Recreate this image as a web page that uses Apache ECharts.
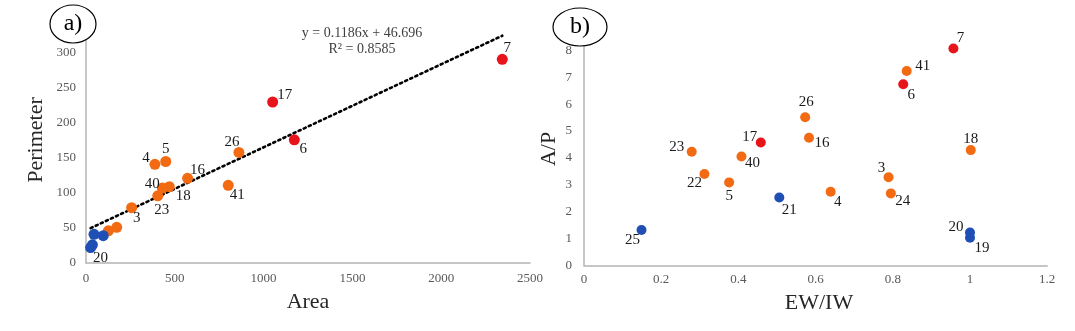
<!DOCTYPE html>
<html>
<head>
<meta charset="utf-8">
<script src="https://cdn.jsdelivr.net/npm/echarts@6/dist/echarts.min.js"></script>
<style>
  html, body { margin: 0; padding: 0; background: #fff; }
  #chart { width: 1075px; height: 331px; }
</style>
</head>
<body>
<div id="chart"></div>
<script>
// Sites and their measurements
const siteIds   = ['3', '4', '5', '6', '7', '16', '17', '18', '19', '20', '21', '22', '23', '24', '25', '26', '40', '41'];
const siteGroup = ['mid', 'mid', 'mid', 'high', 'high', 'mid', 'high', 'mid', 'low', 'low', 'low', 'mid', 'mid', 'mid', 'low', 'mid', 'mid', 'mid'];
const area      = [257, 388, 449, 1173, 2344, 572, 1051, 469, 45, 26, 97, 173, 404, 126, 36, 861, 430, 801];
const perimeter = [79, 141, 145, 176, 291, 121, 230, 109, 41, 22, 39, 51, 96, 46, 26, 158, 107, 111];
const ewIw      = [0.789, 0.639, 0.376, 0.827, 0.957, 0.583, 0.458, 1.002, 1.0, 1.0, 0.506, 0.312, 0.279, 0.795, 0.149, 0.573, 0.408, 0.836];
const aOverP    = [3.28, 2.74, 3.09, 6.74, 8.07, 4.75, 4.57, 4.29, 1.03, 1.23, 2.53, 3.40, 4.23, 2.68, 1.32, 5.51, 4.05, 7.23];

// Axis ticks
const areaTicks      = [0, 500, 1000, 1500, 2000, 2500];
const perimeterTicks = [0, 50, 100, 150, 200, 250, 300, 350];
const ewIwTicks      = [0, 0.2, 0.4, 0.6, 0.8, 1.0, 1.2];
const aOverPTicks    = [0, 1, 2, 3, 4, 5, 6, 7, 8, 9];

// Linear fit of perimeter on area
const fitSlope = 0.1186;
const fitIntercept = 46.696;
const fitR2 = 0.8585;

// Group colours
const groupColor = { high: '#e8141c', mid: '#f26a12', low: '#1f4fb5' };

// Label offsets (label centre relative to its point), per panel
const labelShiftA = {
  '7': [5, -11], '17': [12, -7], '6': [9, 9], '26': [-7, -10], '4': [-9, -6],
  '5': [0, -12], '16': [10, -8], '41': [9, 10], '40': [-10, -4], '18': [14, 9],
  '23': [4, 14], '3': [5, 10], '20': [10, 10]
};
const labelShiftB = {
  '7': [7, -10], '41': [16, -5], '6': [8, 11], '26': [1, -15], '16': [13, 5],
  '18': [0, -11], '23': [-15, -5], '17': [-11, -6], '40': [11, 7], '22': [-10, 9],
  '5': [0, 14], '21': [10, 13], '25': [-9, 10], '3': [-7, -9], '24': [12, 8],
  '4': [7, 10], '20': [-14, -5], '19': [12, 10]
};

const serif = '"Liberation Serif", "DejaVu Serif", serif';
const tickColor = '#595959';
const axisGrey = '#b4b4b4';

function axisFrom(ticks, gridIndex, labelMargin, fmt) {
  return {
    type: 'value',
    gridIndex: gridIndex,
    min: ticks[0],
    max: ticks[ticks.length - 1],
    interval: ticks[1] - ticks[0],
    axisLine: { show: true, lineStyle: { color: axisGrey, width: 1.5 } },
    axisTick: { show: false },
    splitLine: { show: false },
    axisLabel: {
      color: tickColor, fontFamily: serif, fontSize: 13, margin: labelMargin,
      formatter: fmt || (v => String(v))
    }
  };
}

function pointsFor(xs, ys, group, shifts, xAxisIndex, yAxisIndex, size) {
  const data = [];
  siteIds.forEach((id, i) => {
    if (siteGroup[i] !== group) return;
    const shift = shifts[id];
    data.push({
      value: [xs[i], ys[i]],
      name: id,
      label: shift
        ? { show: true, position: 'inside', offset: shift, formatter: id }
        : { show: false }
    });
  });
  return {
    type: 'scatter',
    xAxisIndex: xAxisIndex,
    yAxisIndex: yAxisIndex,
    symbol: 'circle',
    symbolSize: size,
    itemStyle: { color: groupColor[group], opacity: 1 },
    label: { color: '#1a1a1a', fontFamily: serif, fontSize: 15 },
    data: data,
    z: 3
  };
}

const minArea = Math.min(...area);
const maxArea = Math.max(...area);
const fitLine = {
  type: 'line',
  xAxisIndex: 0,
  yAxisIndex: 0,
  symbol: 'none',
  silent: true,
  lineStyle: { color: '#000', width: 2.6, type: [2.2, 3.4], cap: 'round' },
  data: [
    [minArea, fitSlope * minArea + fitIntercept],
    [maxArea, fitSlope * maxArea + fitIntercept]
  ],
  z: 2
};

const groups = ['mid', 'high', 'low'];
const series = [fitLine];
groups.forEach(g => series.push(pointsFor(area, perimeter, g, labelShiftA, 0, 0, 11)));
groups.forEach(g => series.push(pointsFor(ewIw, aOverP, g, labelShiftB, 1, 1, 10)));

function titleText(x, y, text, rotation) {
  return {
    type: 'text', x: x, y: y, rotation: rotation || 0, z: 50,
    style: {
      text: text, fill: '#262626', font: '22px ' + serif,
      textAlign: 'center', textVerticalAlign: 'middle'
    }
  };
}

function badge(cx, cy, rx, ry, text) {
  return [
    {
      type: 'ellipse', z: 100,
      shape: { cx: cx, cy: cy, rx: rx, ry: ry },
      style: { fill: '#fff', stroke: '#000', lineWidth: 1.2 }
    },
    {
      type: 'text', x: cx, y: cy, z: 101,
      style: {
        text: text, fill: '#000', font: '24px ' + serif,
        textAlign: 'center', textVerticalAlign: 'middle'
      }
    }
  ];
}

const chart = echarts.init(document.getElementById('chart'), null, { renderer: 'canvas' });
chart.setOption({
  animation: false,
  backgroundColor: '#fff',
  grid: [
    { left: 86, top: 18, width: 444, height: 245 },
    { left: 584, top: 23.4, width: 463.2, height: 242.1 }
  ],
  xAxis: [
    axisFrom(areaTicks, 0, 9),
    axisFrom(ewIwTicks, 1, 8, v => String(Math.round(v * 10) / 10))
  ],
  yAxis: [
    axisFrom(perimeterTicks, 0, 10),
    axisFrom(aOverPTicks, 1, 12)
  ],
  series: series,
  graphic: [
    titleText(36, 140, 'Perimeter', Math.PI / 2),
    titleText(308, 302, 'Area'),
    titleText(549, 149, 'A/P', Math.PI / 2),
    titleText(819, 303, 'EW/IW'),
    {
      type: 'text', x: 362, y: 33, z: 50,
      style: {
        text: 'y = ' + fitSlope + 'x + ' + fitIntercept, fill: '#404040',
        font: '14px ' + serif, textAlign: 'center', textVerticalAlign: 'middle'
      }
    },
    {
      type: 'text', x: 362, y: 49, z: 50,
      style: {
        text: 'R² = ' + fitR2, fill: '#404040',
        font: '14px ' + serif, textAlign: 'center', textVerticalAlign: 'middle'
      }
    },
    ...badge(73, 24, 23, 19, 'a)'),
    ...badge(580, 27, 27, 19, 'b)')
  ]
});
</script>
</body>
</html>
